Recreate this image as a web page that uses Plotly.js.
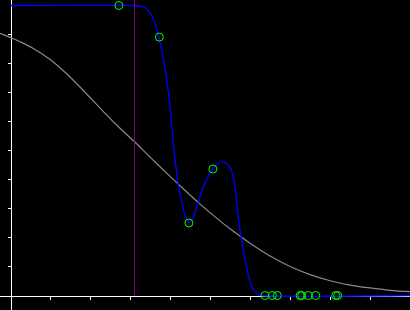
<!DOCTYPE html>
<html>
<head>
<meta charset="utf-8">
<script src="https://cdn.plot.ly/plotly-3.0.1.min.js"></script>
<style>
html,body{margin:0;padding:0;background:#000;}
#chart{width:410px;height:310px;}
</style>
</head>
<body>
<div id="chart"></div>
<script>
// Gray reference curve
const refX = [-0.26, -0.01, 0.24, 0.57, 0.99, 1.41, 1.82, 2.24, 2.66, 3.10, 3.49, 3.95, 4.32, 4.74, 5.16, 5.49, 5.99, 6.49, 6.99, 7.49, 7.99, 8.49, 8.99, 9.49, 9.99];
const refY = [9.04, 8.90, 8.75, 8.52, 8.14, 7.64, 7.07, 6.46, 5.87, 5.30, 4.77, 4.16, 3.68, 3.15, 2.66, 2.30, 1.80, 1.36, 1.00, 0.72, 0.51, 0.36, 0.26, 0.18, 0.13];

// Blue fitted curve
const fitX = [0, 3.09, 3.24, 3.36, 3.49, 3.61, 3.71, 3.82, 3.945, 4.03, 4.11, 4.155, 4.195, 4.29, 4.36, 4.46, 4.56, 4.69, 4.81, 4.94, 5.06, 5.19, 5.31, 5.44, 5.54, 5.61, 5.67, 5.72, 5.78, 5.86, 5.945, 6.03, 6.155, 6.28, 10];
const fitY = [10, 10, 9.98, 9.93, 9.74, 9.40, 8.90, 8.18, 7.03, 5.88, 4.73, 4.26, 3.81, 3.19, 2.78, 2.52, 2.67, 3.19, 3.71, 4.09, 4.36, 4.57, 4.62, 4.50, 4.26, 3.79, 3.05, 2.43, 1.91, 1.28, 0.71, 0.30, 0.08, 0, 0];

// Sample points (green circles)
const ptX = [2.71, 3.72, 4.46, 5.06, 6.36, 6.545, 6.67, 7.24, 7.28, 7.445, 7.63, 8.13, 8.18];
const ptY = [10, 8.91, 2.50, 4.36, 0, 0, 0, 0, 0, 0, 0, 0, 0];

// Vertical threshold line
const thresholdX = 3.1;
const thresholdY = [0, 11];

// Tick values
const xTicks = [1, 2, 3, 4, 5, 6, 7, 8, 9];
const yTicks = [1, 2, 3, 4, 5, 6, 7, 8, 9];

const traces = [
  {x: refX, y: refY, mode: 'lines', line: {color: '#8a8a8a', width: 1.2, shape: 'spline', smoothing: 1}, hoverinfo: 'skip'},
  {x: fitX, y: fitY, mode: 'lines', line: {color: '#0000ff', width: 1.3, shape: 'spline', smoothing: 0.5}, hoverinfo: 'skip'},
  {x: [thresholdX, thresholdX], y: thresholdY, mode: 'lines', line: {color: '#800080', width: 1}, hoverinfo: 'skip'},
  {x: ptX, y: ptY, mode: 'markers', marker: {symbol: 'circle-open', size: 8, color: '#00ff00', line: {width: 1, color: '#00ff00'}}, cliponaxis: false, hoverinfo: 'skip'}
];

const layout = {
  width: 410, height: 310,
  margin: {l: 0, r: 0, t: 0, b: 0, pad: 0},
  paper_bgcolor: '#000', plot_bgcolor: '#000',
  showlegend: false,
  xaxis: {
    range: [-10.5/40, 399.5/40], anchor: 'free', position: 14.5/310,
    showgrid: false, zeroline: false, showticklabels: false,
    showline: true, linecolor: '#ffffff', linewidth: 1,
    ticks: 'outside', ticklen: 3, tickwidth: 1, tickcolor: '#ffffff',
    tickmode: 'array', tickvals: xTicks, layer: 'below traces'
  },
  yaxis: {
    range: [-14.5/29, 295.5/29], anchor: 'free', position: 10.5/410,
    showgrid: false, zeroline: false, showticklabels: false,
    showline: true, linecolor: '#ffffff', linewidth: 1,
    ticks: 'outside', ticklen: 3, tickwidth: 1, tickcolor: '#ffffff',
    tickmode: 'array', tickvals: yTicks, layer: 'below traces'
  }
};

Plotly.newPlot('chart', traces, layout, {staticPlot: true, displayModeBar: false});
</script>
</body>
</html>
